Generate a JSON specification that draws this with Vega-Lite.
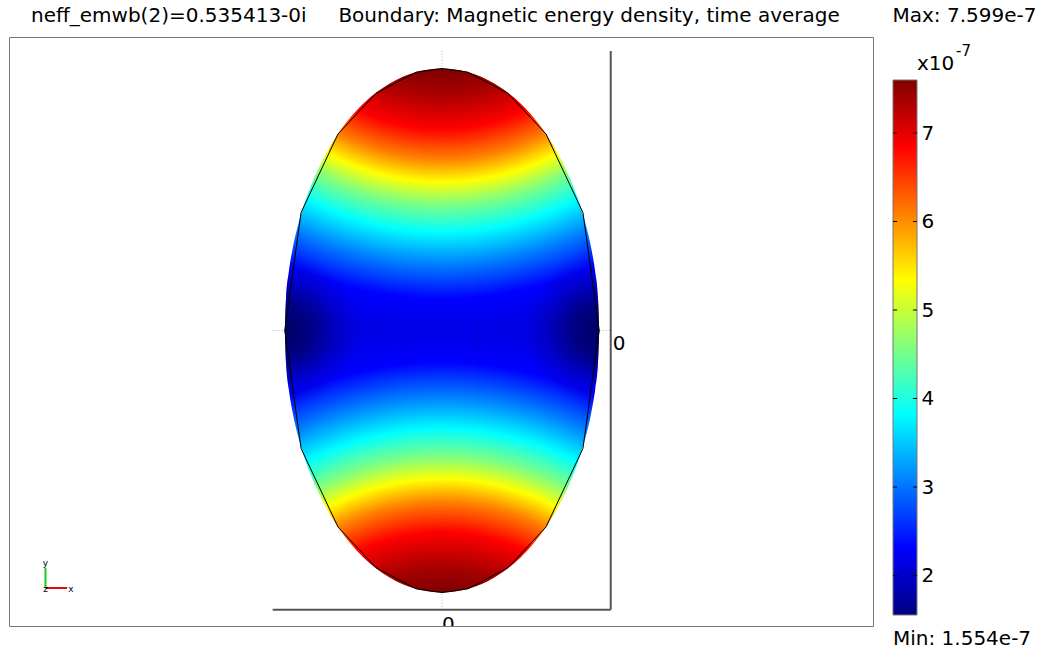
{
  "$schema": "https://vega.github.io/schema/vega-lite/v6.json",
  "background": "white",
  "padding": {"left": 8, "top": 5, "right": 4, "bottom": 2},
  "spacing": 18,
  "config": {
    "font": "DejaVu Sans",
    "view": {"stroke": "#777", "strokeWidth": 1},
    "title": {"fontWeight": "normal", "fontSize": 20, "color": "#000", "baseline": "alphabetic", "offset": 11.5, "font": "DejaVu Sans"},
    "text": {"font": "DejaVu Sans", "color": "#000"}
  },
  "datasets": {
    "ellipse": [
      {"x": -0.6, "yt": 0, "yb": 0},
      {"x": -0.595, "yt": 0.1288, "yb": -0.1288},
      {"x": -0.585, "yt": 0.2222, "yb": -0.2222},
      {"x": -0.57, "yt": 0.3122, "yb": -0.3122},
      {"x": -0.54, "yt": 0.4359, "yb": -0.4359},
      {"x": -0.5, "yt": 0.5528, "yb": -0.5528},
      {"x": -0.45, "yt": 0.6614, "yb": -0.6614},
      {"x": -0.4, "yt": 0.7454, "yb": -0.7454},
      {"x": -0.3, "yt": 0.866, "yb": -0.866},
      {"x": -0.2, "yt": 0.9428, "yb": -0.9428},
      {"x": -0.1, "yt": 0.986, "yb": -0.986},
      {"x": 0, "yt": 1.0, "yb": -1.0},
      {"x": 0.1, "yt": 0.986, "yb": -0.986},
      {"x": 0.2, "yt": 0.9428, "yb": -0.9428},
      {"x": 0.3, "yt": 0.866, "yb": -0.866},
      {"x": 0.4, "yt": 0.7454, "yb": -0.7454},
      {"x": 0.45, "yt": 0.6614, "yb": -0.6614},
      {"x": 0.5, "yt": 0.5528, "yb": -0.5528},
      {"x": 0.54, "yt": 0.4359, "yb": -0.4359},
      {"x": 0.57, "yt": 0.3122, "yb": -0.3122},
      {"x": 0.585, "yt": 0.2222, "yb": -0.2222},
      {"x": 0.595, "yt": 0.1288, "yb": -0.1288},
      {"x": 0.6, "yt": 0, "yb": 0}
    ],
    "seam": [{"x": -0.6, "x2": 0.6, "y": 0}],
    "lens": [
      {"y": -0.286, "xl": -0.5749, "xr": 0.5749},
      {"y": -0.25, "xl": -0.5809, "xr": 0.5809},
      {"y": -0.2, "xl": -0.5879, "xr": 0.5879},
      {"y": -0.15, "xl": -0.5932, "xr": 0.5932},
      {"y": -0.1, "xl": -0.597, "xr": 0.597},
      {"y": -0.05, "xl": -0.5993, "xr": 0.5993},
      {"y": 0, "xl": -0.6, "xr": 0.6},
      {"y": 0.05, "xl": -0.5993, "xr": 0.5993},
      {"y": 0.1, "xl": -0.597, "xr": 0.597},
      {"y": 0.15, "xl": -0.5932, "xr": 0.5932},
      {"y": 0.2, "xl": -0.5879, "xr": 0.5879},
      {"y": 0.25, "xl": -0.5809, "xr": 0.5809},
      {"y": 0.286, "xl": -0.5749, "xr": 0.5749}
    ],
    "outline": [
      {"i": 0, "x": 0, "y": 1.0},
      {"i": 1, "x": 0.099, "y": 0.986},
      {"i": 2, "x": 0.252, "y": 0.905},
      {"i": 3, "x": 0.397, "y": 0.75},
      {"i": 4, "x": 0.538, "y": 0.45},
      {"i": 5, "x": 0.6, "y": 0},
      {"i": 6, "x": 0.538, "y": -0.45},
      {"i": 7, "x": 0.397, "y": -0.75},
      {"i": 8, "x": 0.252, "y": -0.905},
      {"i": 9, "x": 0.099, "y": -0.986},
      {"i": 10, "x": 0, "y": -1.0},
      {"i": 11, "x": -0.099, "y": -0.986},
      {"i": 12, "x": -0.252, "y": -0.905},
      {"i": 13, "x": -0.397, "y": -0.75},
      {"i": 14, "x": -0.538, "y": -0.45},
      {"i": 15, "x": -0.6, "y": 0},
      {"i": 16, "x": -0.538, "y": 0.45},
      {"i": 17, "x": -0.397, "y": 0.75},
      {"i": 18, "x": -0.252, "y": 0.905},
      {"i": 19, "x": -0.099, "y": 0.986},
      {"i": 20, "x": 0, "y": 1.0}
    ],
    "axislines": [
      {"x": 0.644, "x2": 0.644, "y": -1.0656, "y2": 1.0668},
      {"x": -0.6462, "x2": 0.644, "y": -1.0656, "y2": -1.0656}
    ],
    "gridlines": [
      {"x": 0, "x2": 0, "y": -1.0656, "y2": 1.0668},
      {"x": -0.6462, "x2": 0.644, "y": 0, "y2": 0}
    ],
    "triad": [
      {"c": "y", "x": -1.5134, "x2": -1.5134, "y": -0.9828, "y2": -0.9065},
      {"c": "x", "x": -1.5134, "x2": -1.4305, "y": -0.9828, "y2": -0.9828}
    ],
    "triadlabels": [
      {"t": "y", "x": -1.5134, "y": -0.8874},
      {"t": "x", "x": -1.416, "y": -0.9866},
      {"t": "z", "x": -1.5134, "y": -0.9866}
    ],
    "colorbar": [{"lo": 1.554, "hi": 7.599, "a": 0, "b": 1}],
    "cbticks": [
      {"v": 2, "a": 0, "b": 0.17}, {"v": 3, "a": 0, "b": 0.17}, {"v": 4, "a": 0, "b": 0.17},
      {"v": 5, "a": 0, "b": 0.17}, {"v": 6, "a": 0, "b": 0.17}, {"v": 7, "a": 0, "b": 0.17},
      {"v": 2, "a": 0.83, "b": 1}, {"v": 3, "a": 0.83, "b": 1}, {"v": 4, "a": 0.83, "b": 1},
      {"v": 5, "a": 0.83, "b": 1}, {"v": 6, "a": 0.83, "b": 1}, {"v": 7, "a": 0.83, "b": 1}
    ]
  },
  "hconcat": [
    {
      "width": 864,
      "height": 589,
      "title": {"text": "neff_emwb(2)=0.535413-0i\u00a0\u00a0\u00a0\u00a0\u00a0Boundary: Magnetic energy density, time average", "anchor": "start", "dx": 22},
      "layer": [
        {
          "data": {"name": "gridlines"},
          "mark": {"type": "rule", "color": "#b0b0b0", "strokeDash": [1, 2], "strokeWidth": 1},
          "encoding": {
            "x": {"field": "x", "type": "quantitative", "scale": {"domain": [-1.65267, 1.64504], "nice": false, "zero": false}, "axis": null},
            "x2": {"field": "x2"},
            "y": {"field": "y", "type": "quantitative", "scale": {"domain": [-1.12786, 1.12023], "nice": false, "zero": false}, "axis": null},
            "y2": {"field": "y2"}
          }
        },
        {
          "data": {"name": "ellipse"},
          "mark": {"type": "area", "interpolate": "monotone", "fill": {"gradient": "radial", "x1": 0.5, "y1": 1.3387, "r1": 0, "x2": 0.5, "y2": 1.3387, "r2": 1.45, "stops": [
            {"offset": 0.2922, "color": "#7f0000"},
            {"offset": 0.347, "color": "#a80000"},
            {"offset": 0.4238, "color": "#ff0000"},
            {"offset": 0.4896, "color": "#ff8000"},
            {"offset": 0.54, "color": "#ffff00"},
            {"offset": 0.5883, "color": "#80ff80"},
            {"offset": 0.6497, "color": "#00ffff"},
            {"offset": 0.7199, "color": "#0080ff"},
            {"offset": 0.7967, "color": "#0000ff"},
            {"offset": 0.8658, "color": "#0000e6"},
            {"offset": 1, "color": "#0000d0"}
          ]}},
          "encoding": {
            "x": {"field": "x", "type": "quantitative"},
            "y": {"field": "yb", "type": "quantitative"},
            "y2": {"datum": 0}
          }
        },
        {
          "data": {"name": "ellipse"},
          "mark": {"type": "area", "interpolate": "monotone", "fill": {"gradient": "radial", "x1": 0.5, "y1": -0.3403, "r1": 0, "x2": 0.5, "y2": -0.3403, "r2": 1.45, "stops": [
            {"offset": 0.2922, "color": "#7f0000"},
            {"offset": 0.347, "color": "#a80000"},
            {"offset": 0.4238, "color": "#ff0000"},
            {"offset": 0.4896, "color": "#ff8000"},
            {"offset": 0.54, "color": "#ffff00"},
            {"offset": 0.5883, "color": "#80ff80"},
            {"offset": 0.6497, "color": "#00ffff"},
            {"offset": 0.7199, "color": "#0080ff"},
            {"offset": 0.7967, "color": "#0000ff"},
            {"offset": 0.8658, "color": "#0000e6"},
            {"offset": 1, "color": "#0000d0"}
          ]}},
          "encoding": {
            "x": {"field": "x", "type": "quantitative"},
            "y": {"field": "yt", "type": "quantitative"},
            "y2": {"datum": -0.004}
          }
        },
        {
          "data": {"name": "seam"},
          "mark": {"type": "rule", "color": "#0000e8", "strokeWidth": 3},
          "encoding": {
            "x": {"field": "x", "type": "quantitative"},
            "x2": {"field": "x2"},
            "y": {"field": "y", "type": "quantitative"}
          }
        },
        {
          "data": {"name": "lens"},
          "mark": {"type": "area", "orient": "horizontal", "interpolate": "monotone", "fill": {"gradient": "radial", "x1": 0.1, "y1": 0.5, "r1": 0, "x2": 0.1, "y2": 0.5, "r2": 0.5, "stops": [
            {"offset": 0, "color": "rgba(0,0,20,0.62)"},
            {"offset": 0.35, "color": "rgba(0,0,20,0.45)"},
            {"offset": 0.7, "color": "rgba(0,0,20,0.15)"},
            {"offset": 1, "color": "rgba(0,0,20,0)"}
          ]}},
          "encoding": {
            "y": {"field": "y", "type": "quantitative"},
            "x": {"field": "xl", "type": "quantitative"},
            "x2": {"datum": -0.142}
          }
        },
        {
          "data": {"name": "lens"},
          "mark": {"type": "area", "orient": "horizontal", "interpolate": "monotone", "fill": {"gradient": "radial", "x1": 0.9, "y1": 0.5, "r1": 0, "x2": 0.9, "y2": 0.5, "r2": 0.5, "stops": [
            {"offset": 0, "color": "rgba(0,0,20,0.62)"},
            {"offset": 0.35, "color": "rgba(0,0,20,0.45)"},
            {"offset": 0.7, "color": "rgba(0,0,20,0.15)"},
            {"offset": 1, "color": "rgba(0,0,20,0)"}
          ]}},
          "encoding": {
            "y": {"field": "y", "type": "quantitative"},
            "x": {"field": "xr", "type": "quantitative"},
            "x2": {"datum": 0.142}
          }
        },
        {
          "data": {"name": "outline"},
          "mark": {"type": "line", "color": "#000", "strokeWidth": 1},
          "encoding": {
            "x": {"field": "x", "type": "quantitative"},
            "y": {"field": "y", "type": "quantitative"},
            "order": {"field": "i", "type": "quantitative"}
          }
        },
        {
          "data": {"name": "axislines"},
          "mark": {"type": "rule", "color": "#555", "strokeWidth": 2},
          "encoding": {
            "x": {"field": "x", "type": "quantitative"},
            "x2": {"field": "x2"},
            "y": {"field": "y", "type": "quantitative"},
            "y2": {"field": "y2"}
          }
        },
        {
          "data": {"values": [{"t": "0", "x": 0.644, "y": 0}]},
          "mark": {"type": "text", "align": "left", "baseline": "top", "dx": 2, "dy": 3, "fontSize": 20},
          "encoding": {
            "x": {"field": "x", "type": "quantitative"},
            "y": {"field": "y", "type": "quantitative"},
            "text": {"field": "t"}
          }
        },
        {
          "data": {"values": [{"t": "0", "x": 0, "y": -1.0656}]},
          "mark": {"type": "text", "align": "left", "baseline": "top", "dx": 0, "dy": 5, "fontSize": 20, "clip": true},
          "encoding": {
            "x": {"field": "x", "type": "quantitative"},
            "y": {"field": "y", "type": "quantitative"},
            "text": {"field": "t"}
          }
        },
        {
          "data": {"name": "triad"},
          "mark": {"type": "rule", "strokeWidth": 2},
          "encoding": {
            "x": {"field": "x", "type": "quantitative"},
            "x2": {"field": "x2"},
            "y": {"field": "y", "type": "quantitative"},
            "y2": {"field": "y2"},
            "color": {"field": "c", "type": "nominal", "scale": {"domain": ["x", "y"], "range": ["#e01010", "#10d010"]}, "legend": null}
          }
        },
        {
          "data": {"name": "triadlabels"},
          "mark": {"type": "text", "fontSize": 9, "align": "center", "baseline": "middle"},
          "encoding": {
            "x": {"field": "x", "type": "quantitative"},
            "y": {"field": "y", "type": "quantitative"},
            "text": {"field": "t"}
          }
        }
      ]
    },
    {
      "width": 24,
      "height": 589,
      "view": {"stroke": null},
      "title": {"text": "Max: 7.599e-7", "anchor": "start"},
      "layer": [
        {
          "data": {"name": "colorbar"},
          "mark": {"type": "rect", "fill": {"gradient": "linear", "x1": 0, "y1": 0, "x2": 0, "y2": 1, "stops": [
            {"offset": 0, "color": "#800000"},
            {"offset": 0.125, "color": "#ff0000"},
            {"offset": 0.375, "color": "#ffff00"},
            {"offset": 0.625, "color": "#00ffff"},
            {"offset": 0.875, "color": "#0000ff"},
            {"offset": 1, "color": "#000080"}
          ]}, "stroke": "#777", "strokeWidth": 1},
          "encoding": {
            "x": {"field": "a", "type": "quantitative", "scale": {"domain": [0, 1], "nice": false, "zero": false}, "axis": null},
            "x2": {"field": "b"},
            "y": {"field": "lo", "type": "quantitative", "scale": {"domain": [1.42971, 8.08486], "nice": false, "zero": false},
              "axis": {"orient": "right", "values": [2, 3, 4, 5, 6, 7], "format": "d", "domain": false, "grid": false, "ticks": false, "labelPadding": 4, "labelFontSize": 20, "labelFont": "DejaVu Sans", "labelColor": "#000", "title": null}},
            "y2": {"field": "hi"}
          }
        },
        {
          "data": {"name": "cbticks"},
          "mark": {"type": "rule", "color": "#000", "strokeWidth": 1},
          "encoding": {
            "x": {"field": "a", "type": "quantitative"},
            "x2": {"field": "b"},
            "y": {"field": "v", "type": "quantitative"}
          }
        },
        {
          "data": {"values": [{"label": "Min: 1.554e-7", "v": 1.554, "a": 0}]},
          "mark": {"type": "text", "align": "left", "baseline": "middle", "dy": 24, "fontSize": 20},
          "encoding": {
            "x": {"field": "a", "type": "quantitative"},
            "y": {"field": "v", "type": "quantitative"},
            "text": {"field": "label"}
          }
        },
        {
          "data": {"values": [{"label": "x10", "v": 7.599, "a": 1}]},
          "mark": {"type": "text", "align": "left", "baseline": "middle", "dy": -16, "fontSize": 20},
          "encoding": {
            "x": {"field": "a", "type": "quantitative"},
            "y": {"field": "v", "type": "quantitative"},
            "text": {"field": "label"}
          }
        },
        {
          "data": {"values": [{"label": "-7", "v": 7.599, "a": 1}]},
          "mark": {"type": "text", "align": "left", "baseline": "middle", "dx": 39, "dy": -29, "fontSize": 15},
          "encoding": {
            "x": {"field": "a", "type": "quantitative"},
            "y": {"field": "v", "type": "quantitative"},
            "text": {"field": "label"}
          }
        }
      ]
    }
  ]
}
